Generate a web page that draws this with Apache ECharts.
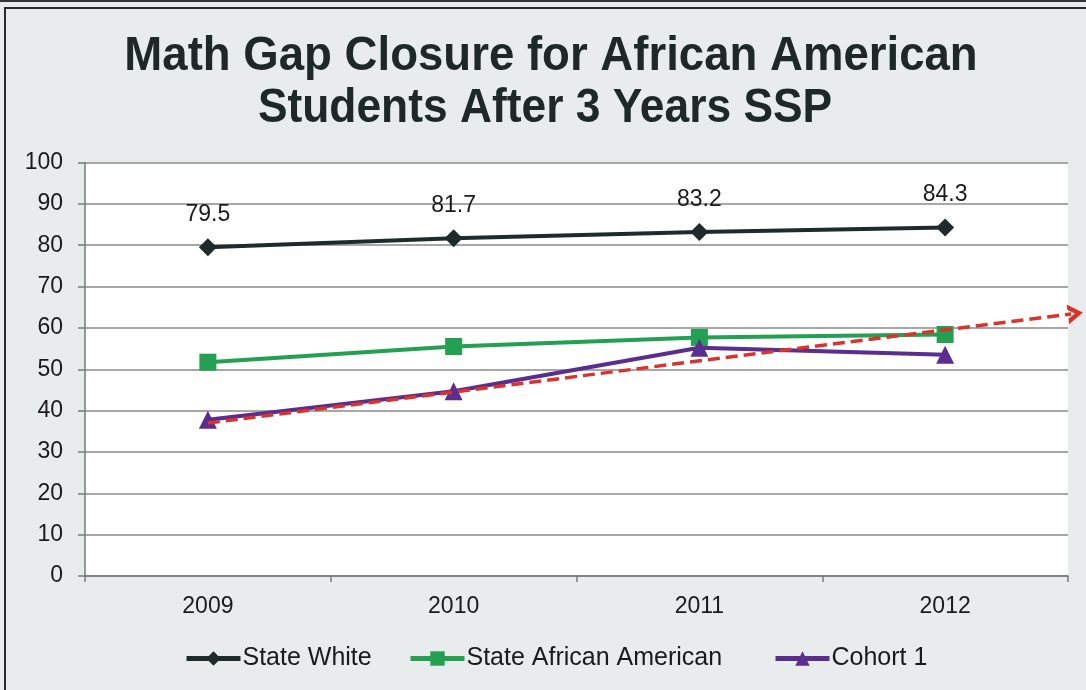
<!DOCTYPE html>
<html>
<head>
<meta charset="utf-8">
<script src="https://cdn.jsdelivr.net/npm/echarts@6/dist/echarts.min.js"></script>
<style>html,body{margin:0;padding:0;background:#e8ecec;}#c{width:1086px;height:690px;}</style>
</head>
<body>
<div id="c"></div>
<script>
const categories = ['2009', '2010', '2011', '2012'];
const stateWhite = [79.5, 81.7, 83.2, 84.3];
const stateAfricanAmerican = [51.7, 55.5, 57.7, 58.4];
const cohort1 = [37.8, 44.7, 55.2, 53.5];
const trendStart = [0, 37.0];
const trendEnd = [3.53, 63.5];
const yTicks = [0, 10, 20, 30, 40, 50, 60, 70, 80, 90, 100];
const titleLines = ['Math Gap Closure for African American', 'Students After 3 Years SSP'];

const chart = echarts.init(document.getElementById('c'), null, {renderer: 'canvas'});
const font = '"Liberation Sans", Arial, sans-serif';
const chevron = 'path://M0,10 L5,0 L10,10 L7.2,10 L5,5.2 L2.8,10 Z';

const legendCommon = {
  top: 646,
  padding: 0,
  itemWidth: 54,
  itemHeight: 18,
  lineStyle: {width: 5},
  textStyle: {fontFamily: font, fontSize: 25, color: '#1a1a1a', padding: [0, 0, 0, -3]}
};

chart.setOption({
  animation: false,
  backgroundColor: '#e8ecec',
  graphic: [
    {type: 'line', shape: {x1: 0, y1: 1, x2: 1086, y2: 1}, style: {stroke: '#333', lineWidth: 2}},
    {type: 'rect', shape: {x: 5, y: 8, width: 1100, height: 700}, style: {fill: 'none', stroke: '#2a2a2a', lineWidth: 2}},
    {type: 'text', x: 551, y: 56, scaleX: 0.93,
      style: {text: titleLines[0], fontFamily: font, fontWeight: 'bold', fontSize: 49, fill: '#1e2828', textAlign: 'center', textVerticalAlign: 'middle'}},
    {type: 'text', x: 545, y: 108, scaleX: 0.905,
      style: {text: titleLines[1], fontFamily: font, fontWeight: 'bold', fontSize: 49, fill: '#1e2828', textAlign: 'center', textVerticalAlign: 'middle'}}
  ],
  legend: [
    Object.assign({data: ['State White'], left: 184}, legendCommon),
    Object.assign({data: ['State African American'], left: 408}, legendCommon),
    Object.assign({data: ['Cohort 1'], left: 773}, legendCommon)
  ],
  grid: {
    left: 85, right: 18, top: 162.5, bottom: 114,
    show: true, backgroundColor: '#ffffff', borderWidth: 0,
    containLabel: false
  },
  xAxis: [
    {
      type: 'category',
      data: categories,
      boundaryGap: true,
      axisLine: {onZero: false, lineStyle: {color: '#7a7a7a', width: 1.5}},
      axisTick: {show: true, length: 6, lineStyle: {color: '#7a7a7a', width: 1.5}},
      axisLabel: {fontFamily: font, fontSize: 23, color: '#1a1a1a', margin: 19},
      splitLine: {show: false}
    },
    {
      type: 'value', min: -0.5, max: 3.5, show: false
    }
  ],
  yAxis: {
    type: 'value',
    min: yTicks[0],
    max: yTicks[yTicks.length - 1],
    interval: 10,
    axisLine: {show: true, onZero: false, lineStyle: {color: '#7a7a7a', width: 1.5}},
    axisTick: {show: true, length: 7, lineStyle: {color: '#7a7a7a', width: 1.5}},
    axisLabel: {fontFamily: font, fontSize: 23, color: '#1a1a1a', margin: 22},
    splitLine: {show: true, lineStyle: {color: '#8a8a8a', width: 1.5}}
  },
  series: [
    {
      name: 'State White',
      type: 'line',
      data: stateWhite,
      symbol: 'diamond',
      symbolSize: 18,
      itemStyle: {color: '#1f2a2a'},
      lineStyle: {color: '#1f2a2a', width: 4},
      label: {show: true, position: 'top', distance: 12, fontFamily: font, fontSize: 23, color: '#1a1a1a'},
      z: 5
    },
    {
      name: 'State African American',
      type: 'line',
      data: stateAfricanAmerican,
      symbol: 'rect',
      symbolSize: 17,
      itemStyle: {color: '#23a052'},
      lineStyle: {color: '#23a052', width: 4},
      z: 3
    },
    {
      name: 'Cohort 1',
      type: 'line',
      data: cohort1,
      symbol: 'triangle',
      symbolSize: 18,
      itemStyle: {color: '#5b2d8e'},
      lineStyle: {color: '#5b2d8e', width: 4},
      z: 4
    },
    {
      name: 'Trend',
      type: 'line',
      xAxisIndex: 1,
      data: [trendStart, trendEnd],
      showSymbol: false,
      symbol: 'none',
      clip: false,
      silent: true,
      lineStyle: {color: '#d9332b', width: 3.5, type: [12, 6]},
      z: 6
    },
    {
      name: 'TrendArrow',
      type: 'scatter',
      xAxisIndex: 1,
      data: [trendEnd],
      symbol: chevron,
      symbolSize: [20, 15],
      symbolRotate: -82.8,
      clip: false,
      silent: true,
      itemStyle: {color: '#d9332b', opacity: 1},
      z: 7
    }
  ]
});
</script>
</body>
</html>
